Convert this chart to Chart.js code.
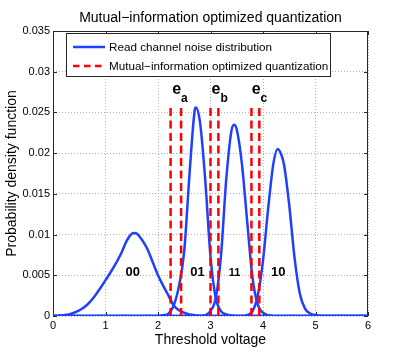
<!DOCTYPE html>
<html>
<head>
<meta charset="utf-8">
<script src="https://cdn.jsdelivr.net/npm/chart.js@4"></script>
<style>
  html, body { margin: 0; padding: 0; background: #fff; }
</style>
</head>
<body>
<canvas id="chart" width="407" height="361"></canvas>
<script>
// Eixos
const xTickLabels = ['0', '1', '2', '3', '4', '5', '6'];
const yTickLabels = ['0', '0.005', '0.01', '0.015', '0.02', '0.025', '0.03', '0.035'];
const yStep = 0.005;

// Curvas de ruido
const x00 = [0, 0.1, 0.2, 0.3, 0.4, 0.5, 0.6, 0.7, 0.8, 0.9, 1.0, 1.1, 1.2, 1.3, 1.4, 1.5, 1.55, 1.6, 1.7, 1.8, 1.9, 2.0, 2.1, 2.2, 2.3, 2.4, 2.5, 2.6, 2.7, 2.8, 3.0, 6];
const y00 = [0, 0.00003, 0.0001, 0.0002, 0.0004, 0.0007, 0.0011, 0.0017, 0.0025, 0.0034, 0.0044, 0.0054, 0.0065, 0.0077, 0.0092, 0.0101, 0.0102, 0.0101, 0.0093, 0.0082, 0.0066, 0.0050, 0.0037, 0.0025, 0.0013, 0.0007, 0.0004, 0.0002, 0.0001, 0.00003, 0, 0];

const x01 = [0, 2.0, 2.1, 2.2, 2.3, 2.4, 2.5, 2.6, 2.7, 2.72, 2.8, 2.9, 3.0, 3.1, 3.2, 3.3, 3.4, 3.5, 6];
const y01 = [0, 0, 0.0001, 0.0003, 0.0013, 0.0037, 0.0080, 0.0174, 0.0253, 0.0256, 0.0238, 0.0167, 0.0073, 0.0022, 0.0006, 0.0002, 0.00005, 0, 0];

const x11 = [0, 2.8, 2.9, 3.0, 3.1, 3.2, 3.3, 3.4, 3.45, 3.5, 3.6, 3.7, 3.8, 3.9, 4.0, 4.1, 4.2, 6];
const y11 = [0, 0, 0.0001, 0.0006, 0.0022, 0.0074, 0.0168, 0.0228, 0.0235, 0.0229, 0.0186, 0.0115, 0.0047, 0.0014, 0.0004, 0.0001, 0, 0];

const x10 = [0, 3.6, 3.7, 3.8, 3.9, 4.0, 4.1, 4.2, 4.28, 4.35, 4.4, 4.5, 4.6, 4.7, 4.8, 4.9, 5.0, 5.1, 6];
const y10 = [0, 0, 0.0001, 0.0006, 0.0025, 0.0068, 0.0133, 0.0188, 0.0205, 0.0198, 0.0186, 0.0136, 0.0072, 0.0028, 0.0009, 0.0003, 0.0001, 0, 0];

// Limiares de quantizacao
const thresholds = [2.24, 2.44, 3.00, 3.15, 3.78, 3.93];
const thresholdTop = 0.0256;

// Rotulos
const chartTitle = 'Mutual\u2212information optimized quantization';
const legendLabels = ['Read channel noise distribution', 'Mutual\u2212information optimized quantization'];
const regionNames = ['00', '01', '11', '10'];
const regionX = [1.52, 2.75, 3.46, 4.29];
const regionY = 0.00495;
const edgeNames = ['a', 'b', 'c'];
const edgeX = [2.27, 3.02, 3.785];
const edgeY = 0.02724;

const BLUE = '#2040ff';
const RED = '#ff0000';
const FONT = '"Liberation Sans", Arial, Helvetica, sans-serif';

function toPoints(xs, ys) {
    return xs.map((v, i) => ({ x: v, y: ys[i] }));
}

const datasets = [];
[[x00, y00], [x01, y01], [x11, y11], [x10, y10]].forEach(c => {
    datasets.push({
        data: toPoints(c[0], c[1]),
        borderColor: BLUE,
        borderWidth: 2.5,
        pointRadius: 0,
        cubicInterpolationMode: 'monotone',
        order: 1
    });
});
thresholds.forEach(t => {
    datasets.push({
        data: [{ x: t, y: 0 }, { x: t, y: thresholdTop }],
        borderColor: RED,
        borderWidth: 2.5,
        borderDash: [8, 4.5],
        pointRadius: 0,
        order: 0
    });
});

// Moldura, ticks internos, titulo, legenda e textos
const decor = {
    id: 'decor',
    beforeDatasetsDraw(chart) {
        const { ctx, chartArea: a, scales: { x, y } } = chart;
        ctx.save();
        ctx.strokeStyle = '#262626';
        ctx.lineWidth = 1;
        ctx.strokeRect(a.left + 0.5, a.top + 0.5, a.right - a.left - 1, a.bottom - a.top - 1);
        ctx.beginPath();
        x.ticks.forEach(t => {
            const px = Math.round(x.getPixelForValue(t.value)) + 0.5;
            ctx.moveTo(px, a.bottom); ctx.lineTo(px, a.bottom - 4);
            ctx.moveTo(px, a.top); ctx.lineTo(px, a.top + 4);
        });
        y.ticks.forEach(t => {
            const py = Math.round(y.getPixelForValue(t.value)) + 0.5;
            ctx.moveTo(a.left, py); ctx.lineTo(a.left + 4, py);
            ctx.moveTo(a.right, py); ctx.lineTo(a.right - 4, py);
        });
        ctx.stroke();
        ctx.restore();
    },
    afterDraw(chart) {
        const { ctx, chartArea: a, scales: { x, y } } = chart;
        ctx.save();
        ctx.fillStyle = '#000';

        // titulo
        ctx.font = '14px ' + FONT;
        ctx.textAlign = 'center';
        ctx.textBaseline = 'alphabetic';
        ctx.fillText(chartTitle, (a.left + a.right) / 2, 22);

        // legenda
        ctx.fillStyle = '#fff';
        ctx.fillRect(66, 33, 265, 44);
        ctx.strokeStyle = '#262626';
        ctx.lineWidth = 1;
        ctx.strokeRect(66.5, 33.5, 264, 43);
        ctx.lineWidth = 2.5;
        ctx.strokeStyle = BLUE;
        ctx.beginPath(); ctx.moveTo(73, 47); ctx.lineTo(105, 47); ctx.stroke();
        ctx.strokeStyle = RED;
        ctx.setLineDash([6.5, 4.5]);
        ctx.beginPath(); ctx.moveTo(73, 66); ctx.lineTo(105, 66); ctx.stroke();
        ctx.setLineDash([]);
        ctx.fillStyle = '#000';
        ctx.font = '11.7px ' + FONT;
        ctx.textAlign = 'left';
        ctx.fillText(legendLabels[0], 109, 50.7);
        ctx.fillText(legendLabels[1], 109, 70);

        // e_a, e_b, e_c
        edgeNames.forEach((s, i) => {
            const px = x.getPixelForValue(edgeX[i]);
            const py = y.getPixelForValue(edgeY);
            ctx.font = 'bold 16px ' + FONT;
            ctx.fillText('e', px, py);
            const w = ctx.measureText('e').width;
            ctx.font = 'bold 12px ' + FONT;
            ctx.fillText(s, px + w, py + 8);
        });

        // regioes
        ctx.textAlign = 'center';
        regionNames.forEach((s, i) => {
            ctx.font = (s === '11' ? 'bold 11px ' : 'bold 13px ') + FONT;
            ctx.fillText(s, x.getPixelForValue(regionX[i]), y.getPixelForValue(regionY));
        });
        ctx.restore();
    }
};

new Chart(document.getElementById('chart'), {
    type: 'line',
    data: { datasets: datasets },
    options: {
        responsive: false,
        animation: false,
        layout: { padding: { top: 31, right: 39, left: 0, bottom: 0 } },
        plugins: {
            legend: { display: false },
            tooltip: { enabled: false }
        },
        scales: {
            x: {
                type: 'linear',
                min: 0,
                max: 6,
                ticks: {
                    stepSize: 1,
                    padding: 3,
                    color: '#000',
                    font: { family: FONT, size: 11 },
                    callback: (v) => xTickLabels[Math.round(v)]
                },
                grid: { color: '#b0b0b0', drawTicks: false },
                border: { display: false, dash: [1, 2] },
                title: {
                    display: true,
                    text: 'Threshold voltage',
                    color: '#000',
                    font: { family: FONT, size: 14 },
                    padding: { top: 0, bottom: 12.6 }
                },
                afterFit: (s) => { s.height = 45; }
            },
            y: {
                min: 0,
                max: 0.035,
                ticks: {
                    stepSize: yStep,
                    padding: 3,
                    color: '#000',
                    font: { family: FONT, size: 11 },
                    callback: (v) => yTickLabels[Math.round(v / yStep)]
                },
                grid: { color: '#b0b0b0', drawTicks: false },
                border: { display: false, dash: [1, 2] },
                title: {
                    display: true,
                    text: 'Probability density function',
                    color: '#000',
                    font: { family: FONT, size: 14 },
                    padding: { top: 3.6, bottom: 0 }
                },
                afterFit: (s) => { s.width = 53; }
            }
        }
    },
    plugins: [decor]
});
</script>
</body>
</html>
